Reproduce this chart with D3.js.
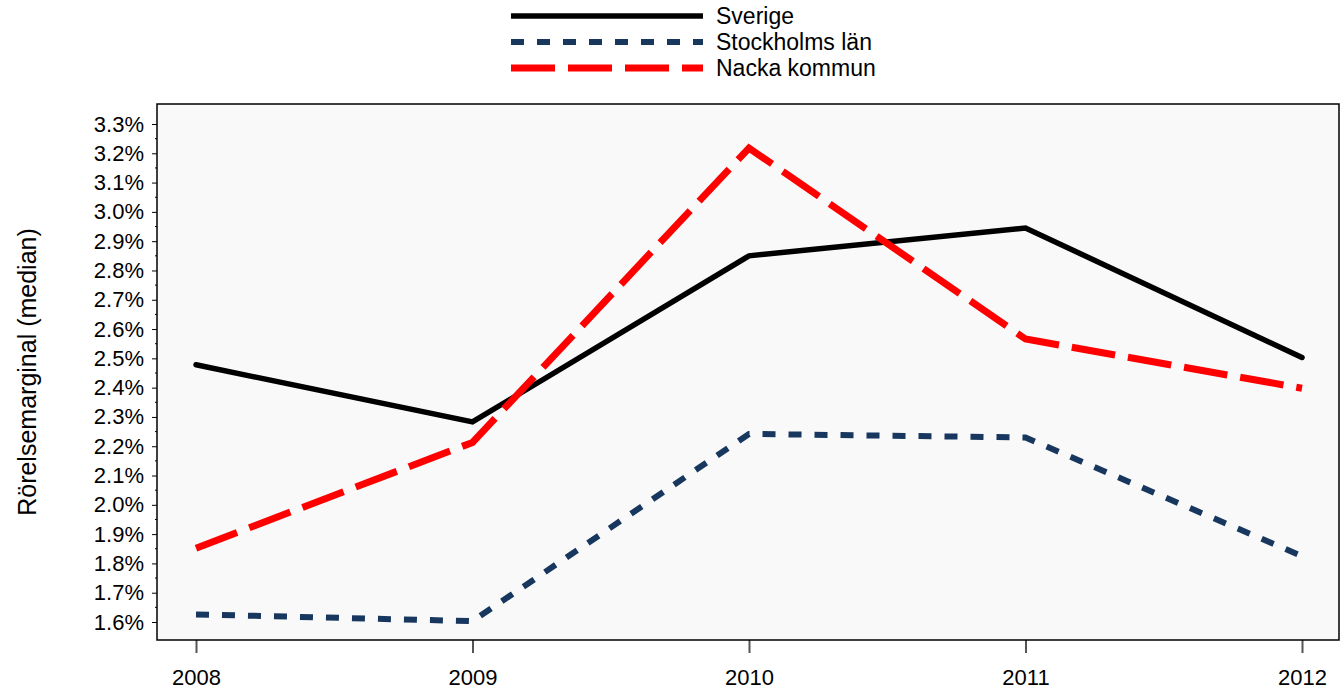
<!DOCTYPE html>
<html>
<head>
<meta charset="utf-8">
<script src="https://cdn.jsdelivr.net/npm/d3@7"></script>
<style>
  body { margin: 0; background: #fff; }
  svg { display: block; font-family: "Liberation Sans", Arial, sans-serif; }
</style>
</head>
<body>
<svg id="chart" width="1341" height="692"></svg>
<script>
// data
const years = [2008, 2009, 2010, 2011, 2012];
const sverige = [2.478, 2.283, 2.850, 2.945, 2.503];
const stockholm = [1.626, 1.603, 2.242, 2.230, 1.825];
const nacka = [1.852, 2.213, 3.218, 2.566, 2.398];
const yTicks = [1.6, 1.7, 1.8, 1.9, 2.0, 2.1, 2.2, 2.3, 2.4, 2.5, 2.6, 2.7, 2.8, 2.9, 3.0, 3.1, 3.2, 3.3];
const seriesNames = ["Sverige", "Stockholms län", "Nacka kommun"];

const series = [
  { name: seriesNames[0], values: sverige, color: "#000000", width: 5.5, dash: null },
  { name: seriesNames[1], values: stockholm, color: "#17375e", width: 6, dash: "13,13" },
  { name: seriesNames[2], values: nacka, color: "#ff0000", width: 7, dash: "44,13" }
];

const plot = { left: 157, top: 104, right: 1339, bottom: 640 };
const svg = d3.select("#chart");

const x = d3.scalePoint().domain(years).range([196, 1302]);
const y = d3.scaleLinear().domain([1.6, 3.3]).range([622, 124]);

// plot background
svg.append("rect")
  .attr("x", plot.left).attr("y", plot.top)
  .attr("width", plot.right - plot.left).attr("height", plot.bottom - plot.top)
  .attr("fill", "#f9f9f9");

// y axis
const yAxis = svg.append("g")
  .attr("transform", `translate(${plot.left},0)`)
  .call(d3.axisLeft(y).tickValues(yTicks).tickSize(5).tickPadding(8)
    .tickFormat(d => d.toFixed(1) + "%"));
yAxis.select(".domain").remove();
yAxis.selectAll("line").attr("stroke", "#000").attr("stroke-width", 1);
yAxis.selectAll("text").attr("font-size", 22).attr("fill", "#000")
  .attr("font-family", "Liberation Sans, Arial, sans-serif");

// minor ticks
const minors = yTicks.slice(0, -1).map(v => v + 0.05);
svg.append("g").selectAll("line").data(minors).join("line")
  .attr("x1", plot.left - 2).attr("x2", plot.left)
  .attr("y1", d => y(d)).attr("y2", d => y(d))
  .attr("stroke", "#000").attr("stroke-width", 1);

// x axis
const xAxis = svg.append("g")
  .attr("transform", `translate(0,${plot.bottom})`)
  .call(d3.axisBottom(x).tickSize(13).tickPadding(16).tickFormat(d3.format("d")));
xAxis.select(".domain").remove();
xAxis.selectAll("line").attr("stroke", "#555").attr("stroke-width", 2);
xAxis.selectAll("text").attr("font-size", 22).attr("fill", "#000")
  .attr("font-family", "Liberation Sans, Arial, sans-serif");

// frame
svg.append("rect")
  .attr("x", plot.left).attr("y", plot.top)
  .attr("width", plot.right - plot.left).attr("height", plot.bottom - plot.top)
  .attr("fill", "none").attr("stroke", "#000").attr("stroke-width", 1.5);

// lines
const line = d3.line().x((d, i) => x(years[i])).y(d => y(d));
svg.append("g").selectAll("path").data(series).join("path")
  .attr("d", d => line(d.values))
  .attr("fill", "none")
  .attr("stroke", d => d.color)
  .attr("stroke-width", d => d.width)
  .attr("stroke-dasharray", d => d.dash)
  .attr("stroke-linecap", d => d.dash ? "butt" : "round")
  .attr("stroke-linejoin", "miter");

// legend
const legend = svg.append("g").selectAll("g").data(series).join("g")
  .attr("transform", (d, i) => `translate(0,${16 + i * 26})`);
legend.append("line")
  .attr("x1", 511).attr("x2", 703)
  .attr("stroke", d => d.color)
  .attr("stroke-width", d => d.width)
  .attr("stroke-dasharray", d => d.dash);
legend.append("text")
  .attr("x", 716).attr("y", 8)
  .attr("font-size", 23)
  .text(d => d.name);

// y title
svg.append("text")
  .attr("transform", "translate(36,372) rotate(-90)")
  .attr("text-anchor", "middle")
  .attr("font-size", 25)
  .text("Rörelsemarginal (median)");
</script>
</body>
</html>
